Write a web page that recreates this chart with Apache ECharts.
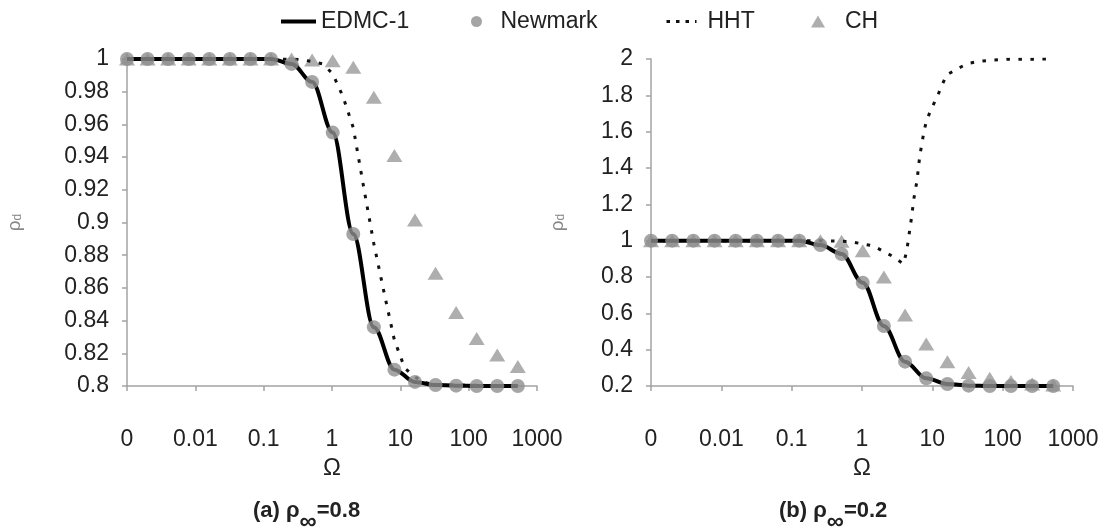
<!DOCTYPE html>
<html>
<head>
<meta charset="utf-8">
<script src="https://cdn.jsdelivr.net/npm/echarts@6/dist/echarts.min.js"></script>
<style>
html,body{margin:0;padding:0;background:#fff;}
#chart{width:1106px;height:529px;}
</style>
</head>
<body>
<div id="chart"></div>
<script>
// ---- data ----
const xTickLabels = ['0', '0.01', '0.1', '1', '10', '100', '1000'];
const omega = [0.001, 0.002, 0.004, 0.008, 0.016, 0.032, 0.064, 0.128, 0.256, 0.512,
  1.024, 2.048, 4.096, 8.192, 16.384, 32.768, 65.536, 131.072, 262.144, 524.288];

// (a) rho_inf = 0.8
const edmcA    = [1, 1, 1, 1, 1, 1, 1, 1, 0.997, 0.986, 0.955, 0.893, 0.836, 0.810, 0.8025, 0.8006, 0.8002, 0.8, 0.8, 0.8];
const newmarkA = [1, 1, 1, 1, 1, 1, 1, 1, 0.997, 0.986, 0.955, 0.893, 0.836, 0.810, 0.8025, 0.8006, 0.8002, 0.8, 0.8, 0.8];
const chA      = [1, 1, 1, 1, 1, 1, 1, 1, 1, 0.9994, 0.999, 0.995, 0.9766, 0.941, 0.9015, 0.869, 0.845, 0.829, 0.819, 0.812];
const hhtOmegaA = [0.001, 0.256, 0.362, 0.512, 0.724, 1.024, 1.448, 2.048, 2.896, 4.096, 5.793, 8.192, 11.585, 16.384, 23.17, 32.768, 524.288];
const hhtA      = [1, 1, 0.9995, 0.9985, 0.997, 0.991, 0.977, 0.958, 0.922, 0.887, 0.857, 0.828, 0.811, 0.8055, 0.802, 0.8008, 0.8];

// (b) rho_inf = 0.2
const edmcB    = [1, 1, 1, 1, 1, 1, 1, 1, 0.976, 0.927, 0.769, 0.530, 0.334, 0.242, 0.211, 0.202, 0.2, 0.2, 0.2, 0.2];
const newmarkB = [1, 1, 1, 1, 1, 1, 1, 1, 0.976, 0.927, 0.769, 0.530, 0.334, 0.242, 0.211, 0.202, 0.2, 0.2, 0.2, 0.2];
const chB      = [1, 1, 1, 1, 1, 1, 1, 1, 1, 0.997, 0.945, 0.80, 0.591, 0.431, 0.334, 0.274, 0.242, 0.225, 0.211, 0.206];
const hhtOmegaB = [0.001, 0.251, 0.676, 1.449, 2.786, 3.864, 4.315, 4.550, 4.808, 5.082, 5.358, 5.662, 6.095, 6.310,
  6.668, 7.112, 7.603, 8.299, 9.772, 11.72, 13.55, 15.96, 23.28, 32.36, 50.12, 73.11, 113.5, 524.288];
const hhtB      = [1, 1, 0.995, 0.971, 0.912, 0.872, 0.94, 1.004, 1.068, 1.132, 1.206, 1.270, 1.334, 1.398,
  1.472, 1.536, 1.600, 1.664, 1.729, 1.792, 1.851, 1.912, 1.949, 1.976, 1.989, 1.994, 1.998, 2.0];

const seriesNames = ['EDMC-1', 'Newmark', 'HHT', 'CH'];
const captions = [['(a) ρ', '∞', '=0.8'], ['(b) ρ', '∞', '=0.2']];

// ---- helpers ----
const toPts = (xs, ys) => xs.map((w, i) => [Math.log10(w), ys[i]]);
const FONT = '"Liberation Sans", Arial, sans-serif';
const AXIS_COLOR = '#a3a3a3';
const TXT = '#222';

function xAxis(gridIndex) {
  return {
    type: 'value', gridIndex, min: -3, max: 3, interval: 1,
    name: 'Ω', nameLocation: 'middle', nameGap: 69,
    nameTextStyle: { fontFamily: FONT, fontSize: 24, color: TXT },
    axisLine: { show: true, onZero: false, lineStyle: { color: AXIS_COLOR, width: 1.5 } },
    axisTick: { show: true, length: 5, lineStyle: { color: AXIS_COLOR, width: 1.5 } },
    axisLabel: { margin: 42, fontFamily: FONT, fontSize: 23, color: TXT,
      formatter: v => xTickLabels[Math.round(v) + 3] },
    splitLine: { show: false }
  };
}
function yAxis(gridIndex, min, max, interval, nameGap) {
  return {
    type: 'value', gridIndex, min, max, interval,
    name: '{r|ρ}{s|d}', nameLocation: 'middle', nameGap, nameRotate: 90,
    nameTextStyle: { fontFamily: FONT, color: '#888',
      rich: { r: { fontSize: 19, fontFamily: FONT, color: '#888' },
              s: { fontSize: 12, fontFamily: FONT, color: '#888', padding: [7, 0, 0, 0] } } },
    axisLine: { show: true, onZero: false, lineStyle: { color: AXIS_COLOR, width: 1.5 } },
    axisTick: { show: true, length: 5, lineStyle: { color: AXIS_COLOR, width: 1.5 } },
    axisLabel: { margin: 18, fontFamily: FONT, fontSize: 23, color: TXT },
    splitLine: { show: false }
  };
}
function seriesFor(idx, edmc, newmark, hhtX, hht, ch) {
  return [
    { name: 'CH', type: 'scatter', xAxisIndex: idx, yAxisIndex: idx, z: 2,
      symbol: 'triangle', symbolSize: [16, 13], itemStyle: { color: '#9a9a9a' },
      data: toPts(omega, ch) },
    { name: 'HHT', type: 'line', xAxisIndex: idx, yAxisIndex: idx, z: 3,
      showSymbol: false, symbol: 'none', itemStyle: { color: '#111' },
      lineStyle: { color: '#111', width: 3, type: [3.5, 8.5], cap: 'butt' },
      data: toPts(hhtX, hht) },
    { name: 'EDMC-1', type: 'line', xAxisIndex: idx, yAxisIndex: idx, z: 4,
      showSymbol: false, symbol: 'none', smooth: 0.35, smoothMonotone: 'x',
      itemStyle: { color: '#000' },
      lineStyle: { color: '#000', width: 4 },
      data: toPts(omega, edmc) },
    { name: 'Newmark', type: 'scatter', xAxisIndex: idx, yAxisIndex: idx, z: 5,
      symbol: 'circle', symbolSize: 14, itemStyle: { color: '#8f8f8f' },
      data: toPts(omega, newmark) }
  ];
}
function legendItem(name, left, icon, w, h, pad) {
  const d = icon ? { name, icon } : { name };
  return {
    data: [d], left, top: 5, itemWidth: w, itemHeight: h,
    selectedMode: false,
    textStyle: { fontFamily: FONT, fontSize: 23, color: TXT, padding: [0, 0, 0, pad] }
  };
}
function caption(c, left) {
  return {
    text: '{a|' + c[0] + '}{s|' + c[1] + '}{a|' + c[2] + '}', left, top: 495,
    textStyle: { rich: {
      a: { fontFamily: FONT, fontSize: 22, fontWeight: 'bold', color: TXT, verticalAlign: 'top', lineHeight: 25 },
      s: { fontFamily: FONT, fontSize: 24, fontWeight: 'bold', color: TXT, padding: [10, 0, 0, 0], verticalAlign: 'top', lineHeight: 25 }
    } }
  };
}

const chart = echarts.init(document.getElementById('chart'), null, { renderer: 'canvas' });
chart.setOption({
  backgroundColor: '#fff',
  animation: false,
  title: [caption(captions[0], 248), caption(captions[1], 774)],
  legend: [
    legendItem(seriesNames[0], 276, 'rect', 35, 4, 0),
    legendItem(seriesNames[1], 466, 'circle', 14, 11, 12),
    Object.assign(legendItem(seriesNames[2], 660, undefined, 30, 10, 6),
      { lineStyle: { type: [3.5, 6], width: 3, color: '#111' }, itemStyle: { color: 'rgba(0,0,0,0)' } }),
    legendItem(seriesNames[3], 806, 'triangle', 14, 12, 15)
  ],
  grid: [
    { left: 127, top: 59, width: 410, height: 327 },
    { left: 651, top: 59, width: 422, height: 327 }
  ],
  xAxis: [xAxis(0), xAxis(1)],
  yAxis: [yAxis(0, 0.8, 1, 0.02, 103), yAxis(1, 0.2, 2, 0.2, 84)],
  series: [
    ...seriesFor(0, edmcA, newmarkA, hhtOmegaA, hhtA, chA),
    ...seriesFor(1, edmcB, newmarkB, hhtOmegaB, hhtB, chB)
  ]
});
</script>
</body>
</html>
